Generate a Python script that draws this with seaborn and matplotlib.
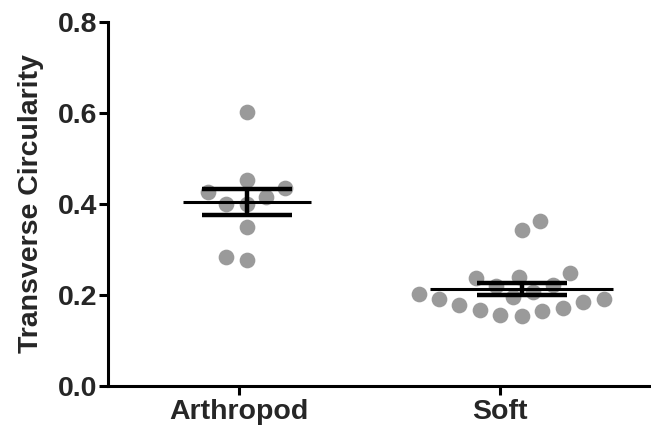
import numpy as np
import matplotlib.pyplot as plt
import matplotlib.transforms as mtransforms
import pandas as pd
import seaborn as sns

# Data
groups = ['Arthropod', 'Soft']
arthropod = [0.603, 0.436, 0.453, 0.426, 0.416, 0.401, 0.399, 0.349, 0.278, 0.284]
soft = [0.343, 0.363, 0.239, 0.249, 0.237, 0.222, 0.220, 0.2015, 0.1905, 0.185,
        0.171, 0.165, 0.1545, 0.156, 0.167, 0.178, 0.1905, 0.195, 0.207]
yticks = [0.0, 0.2, 0.4, 0.6, 0.8]

df = pd.DataFrame({'group': ['Arthropod'] * len(arthropod) + ['Soft'] * len(soft),
                   'value': arthropod + soft})

sns.set_style('ticks')
plt.rcParams['font.family'] = ['Liberation Sans', 'DejaVu Sans']
plt.rcParams['font.weight'] = 'bold'

fig = plt.figure(figsize=(6.51, 4.32), dpi=100)
ax = fig.add_axes([0.1659, 0.1065, 0.8341, 0.8426])

# swarm centres sit a little right of the ticks in the original
shift = [0.03, 0.083]
mean_half = [0.245, 0.35]

# lay the swarm out with a larger marker (looser spacing, like Prism), then shrink
sns.swarmplot(data=df, x='group', y='value', order=groups, color='#9a9a9a',
              size=14.5, linewidth=0, ax=ax, zorder=1)

ax.set_xlim(-0.502, 1.579)
ax.set_ylim(0, 0.8)
fig.canvas.draw()
for coll, s in zip(ax.collections, shift):
    del coll.draw
    coll.set_sizes([11.3 ** 2])
    coll.set_offset_transform(mtransforms.Affine2D().translate(s, 0) + ax.transData)

for i, vals in enumerate([arthropod, soft]):
    vals = np.array(vals)
    m = vals.mean()
    se = vals.std(ddof=1) / np.sqrt(len(vals))
    x = i + shift[i]
    ax.hlines(m, x - mean_half[i], x + mean_half[i], color='black', lw=2.2, zorder=3)
    ax.errorbar(x, m, yerr=se, fmt='none', ecolor='black', elinewidth=3.2,
                capsize=32.4, capthick=3.2, zorder=3)

ax.set_yticks(yticks)
ax.set_yticklabels([f'{t:.1f}' for t in yticks])
ax.set_xlabel('')
ax.set_ylabel('Transverse Circularity', fontsize=20.5, fontweight='bold', labelpad=10)
ax.tick_params(axis='both', labelsize=20.5, width=2.2, length=6.5, color='black')
ax.tick_params(axis='y', pad=1)
ax.tick_params(axis='x', pad=3)
for lab in ax.get_xticklabels() + ax.get_yticklabels():
    lab.set_fontweight('bold')
sns.despine(ax=ax)
for sp in ['left', 'bottom']:
    ax.spines[sp].set_linewidth(2.2)
    ax.spines[sp].set_color('black')
ax.spines['left'].set_zorder(4)

fig.savefig('out.png', dpi=100)
